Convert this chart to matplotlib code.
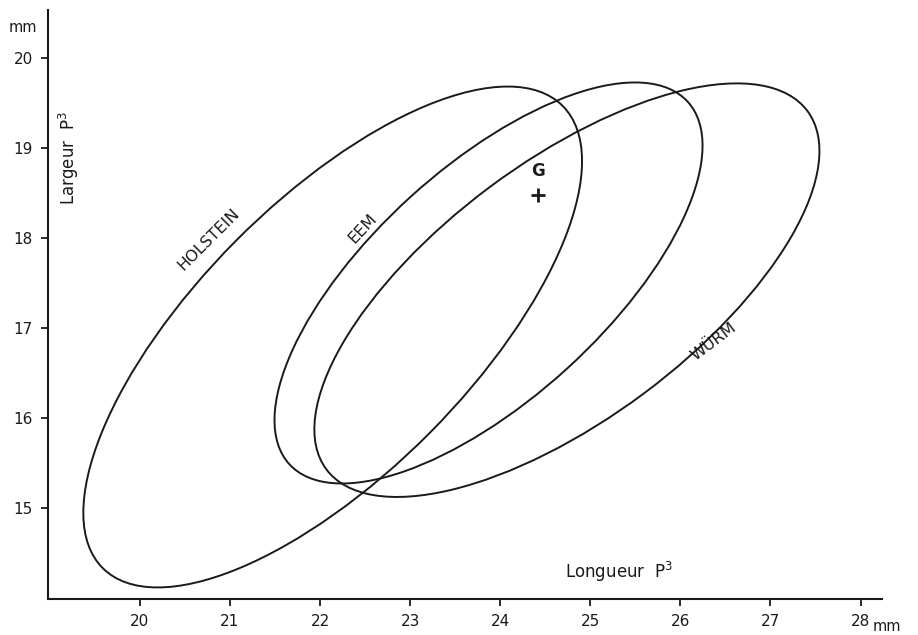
import numpy as np
import matplotlib
matplotlib.use("Agg")
import matplotlib.pyplot as plt
from matplotlib.patches import Ellipse

# ellipse outlines for the three groups (mm)
groups = ["HOLSTEIN", "EEM", "WÜRM"]
center_x = [22.14, 23.87, 24.74]
center_y = [16.90, 17.50, 17.42]
axis_long = [7.24, 5.98, 6.66]
axis_short = [3.03, 2.58, 2.86]
tilt_deg = [45.2, 42.3, 36.7]

# where each group name sits along its outline
label_x = [20.76, 22.47, 26.37]
label_y = [17.98, 18.11, 16.85]
label_rot = [45, 47, 37]

# single specimen G
g_x = [24.42]
g_y = [18.48]

x_ticks = [20, 21, 22, 23, 24, 25, 26, 27, 28]
y_ticks = [15, 16, 17, 18, 19, 20]

ink = "#1a1a1a"
plt.rcParams["font.family"] = ["DejaVu Sans"]
plt.rcParams["mathtext.fontset"] = "dejavusans"

fig = plt.figure(figsize=(9.18, 6.35), dpi=100)
ax = fig.add_axes([0.0523, 0.0567, 0.9087, 0.9273])

for cx, cy, w, h, a in zip(center_x, center_y, axis_long, axis_short, tilt_deg):
    ax.add_patch(Ellipse((cx, cy), w, h, angle=a, fill=False,
                         edgecolor=ink, linewidth=1.4))

for name, lx, ly, r in zip(groups, label_x, label_y, label_rot):
    ax.text(lx, ly, name, rotation=r, ha="center", va="center",
            fontsize=11.5, color=ink, rotation_mode="anchor")

ax.plot(g_x, g_y, marker="+", markersize=10, markeredgewidth=2,
        color=ink, linestyle="none")
ax.text(g_x[0], g_y[0] + 0.26, "G", ha="center", va="center",
        fontsize=12, color=ink, fontweight="bold")

ax.set_xlim(18.98, 28.24)
ax.set_ylim(13.99, 20.53)
ax.set_xticks(x_ticks)
ax.set_yticks(y_ticks)
ax.tick_params(direction="out", length=5, width=1.3, labelsize=11,
               colors=ink, pad=6)
for side in ["top", "right"]:
    ax.spines[side].set_visible(False)
for side in ["left", "bottom"]:
    ax.spines[side].set_linewidth(1.5)
    ax.spines[side].set_color(ink)

ax.text(25.32, 14.29, "Longueur  P$^{3}$", ha="center", va="center",
        fontsize=12, color=ink)
ax.text(19.21, 18.89, "Largeur  P$^{3}$", rotation=90, ha="center",
        va="center", fontsize=12, color=ink)
ax.text(-0.013, 0.97, "mm", transform=ax.transAxes, ha="right",
        va="center", fontsize=10.5, color=ink)
ax.text(28.13, -0.046, "mm", transform=ax.get_xaxis_transform(),
        ha="left", va="center", fontsize=10.5, color=ink)

fig.savefig("out.png", dpi=100, facecolor="white")
